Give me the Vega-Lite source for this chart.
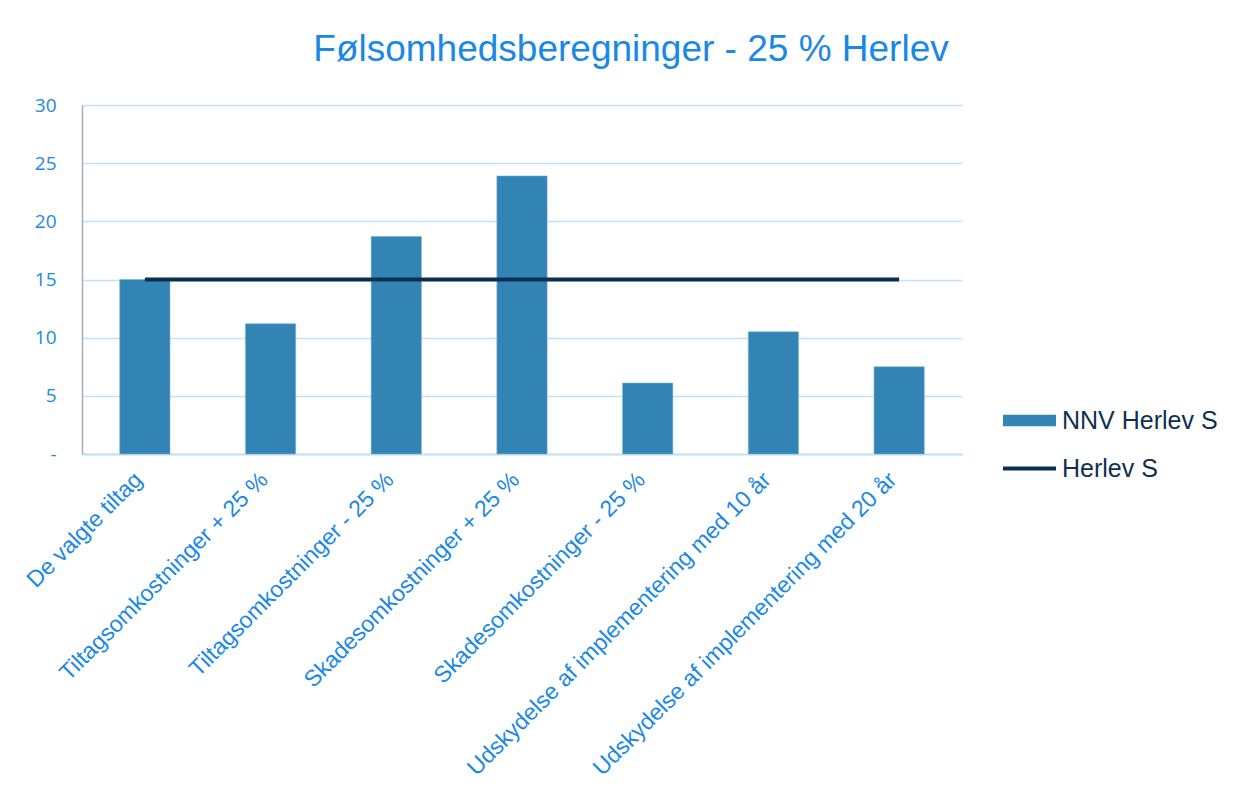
{
  "$schema": "https://vega.github.io/schema/vega-lite/v6.json",
  "width": 880,
  "height": 349,
  "autosize": {"type": "none"},
  "padding": {"left": 82, "top": 105, "right": 281, "bottom": 353},
  "background": "white",
  "title": {
    "text": "Følsomhedsberegninger - 25 % Herlev",
    "font": "Liberation Sans",
    "fontSize": 37,
    "fontWeight": "normal",
    "color": "#1a88e4",
    "anchor": "middle",
    "dx": 109,
    "offset": 27
  },
  "data": {
    "values": [
      {"tiltag": "De valgte tiltag", "nnv": 15.0, "herlev": 15},
      {"tiltag": "Tiltagsomkostninger + 25 %", "nnv": 11.2, "herlev": 15},
      {"tiltag": "Tiltagsomkostninger - 25 %", "nnv": 18.7, "herlev": 15},
      {"tiltag": "Skadesomkostninger + 25 %", "nnv": 23.9, "herlev": 15},
      {"tiltag": "Skadesomkostninger - 25 %", "nnv": 6.1, "herlev": 15},
      {"tiltag": "Udskydelse af implementering med 10 år", "nnv": 10.5, "herlev": 15},
      {"tiltag": "Udskydelse af implementering med 20 år", "nnv": 7.5, "herlev": 15}
    ]
  },
  "encoding": {
    "x": {
      "field": "tiltag",
      "type": "nominal",
      "sort": null,
      "scale": {"paddingInner": 0.6, "paddingOuter": 0.3},
      "axis": {
        "title": null,
        "labelAngle": -45,
        "labelAlign": "right",
        "labelBaseline": "top",
        "labelFont": "Liberation Sans",
        "labelFontSize": 23,
        "labelColor": "#1a88e4",
        "labelPadding": 14,
        "labelOffset": -14,
        "labelLimit": 700,
        "labelOverlap": false,
        "ticks": false,
        "domainColor": "#c3e2f8",
        "domainWidth": 2,
        "grid": false
      }
    }
  },
  "layer": [
    {
      "mark": {"type": "bar", "color": "#3184b3", "stroke": "#7fb2d2", "strokeWidth": 0.6},
      "encoding": {
        "y": {
          "field": "nnv",
          "type": "quantitative",
          "scale": {"domain": [0, 30]},
          "axis": {
            "title": null,
            "values": [0, 5, 10, 15, 20, 25, 30],
            "labelExpr": "datum.value == 0 ? '-' : datum.label",
            "labelOverlap": false,
            "labelFont": "Open Sans",
            "labelFontSize": 19,
            "labelColor": "#1a88e4",
            "labelPadding": 26,
            "ticks": false,
            "domainColor": "#a8acb0",
            "domainWidth": 1.5,
            "gridColor": "#c3e2f8",
            "gridWidth": 1.6
          }
        },
        "fill": {
          "datum": "NNV Herlev S",
          "type": "nominal",
          "scale": {"range": ["#3184b3"]},
          "legend": {
            "title": null,
            "orient": "none",
            "legendX": 921,
            "legendY": 289,
            "padding": 0,
            "symbolType": "M-1,-0.22H1V0.22H-1Z",
            "symbolSize": 2809,
            "symbolStrokeWidth": 0,
            "labelFont": "Liberation Sans",
            "labelFontSize": 25,
            "labelLimit": 300,
            "labelColor": "#0d3050",
            "labelOffset": 6
          }
        }
      }
    },
    {
      "mark": {"type": "line", "strokeWidth": 4, "strokeCap": "butt"},
      "encoding": {
        "y": {"field": "herlev", "type": "quantitative"},
        "stroke": {
          "datum": "Herlev S",
          "type": "nominal",
          "scale": {"range": ["#0b2f50"]},
          "legend": {
            "title": null,
            "orient": "none",
            "legendX": 919,
            "legendY": 335,
            "padding": 0,
            "symbolType": "M-1,0H1",
            "symbolSize": 2809,
            "symbolStrokeWidth": 4,
            "labelFont": "Liberation Sans",
            "labelFontSize": 25,
            "labelLimit": 300,
            "labelColor": "#0d3050",
            "labelOffset": 4
          }
        }
      }
    }
  ],
  "resolve": {"scale": {"y": "shared"}},
  "config": {"view": {"stroke": null}}
}
